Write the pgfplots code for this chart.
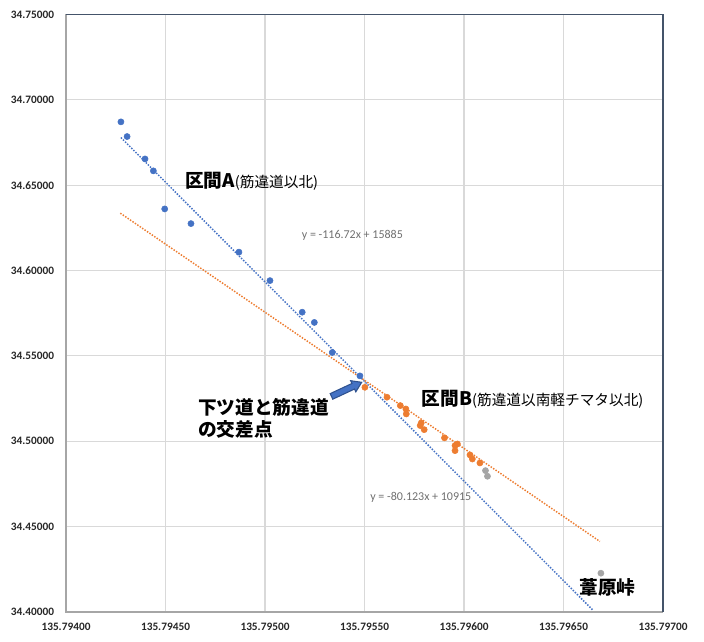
\documentclass[border=0pt]{standalone}
\usepackage{pgfplots}
\pgfplotsset{compat=1.18}
\usepackage{fontspec}
\setmainfont{Carlito}
\newfontfamily\jp{Noto Sans CJK JP}
\definecolor{cblue}{HTML}{4472C4}
\definecolor{corange}{HTML}{ED7D31}
\definecolor{cgray}{HTML}{A5A5A5}
\definecolor{cgrid}{HTML}{D9D9D9}
\definecolor{cframe}{HTML}{44546A}
\definecolor{caxis}{HTML}{A6A6A6}
\definecolor{ceq}{HTML}{707070}
\definecolor{carrowd}{HTML}{2F528F}
% x in units of 1e-5 deg from 135.79400, y in units of 1e-4 deg from 34.40000
\pgfplotstableread{
x y
27.6 2871
30.7 2785
39.7 2654
43.9 2584
49.6 2361
62.8 2275
86.9 2108
102.5 1941
118.7 1756
124.8 1696
133.8 1520
147.7 1383
}\blueA
\pgfplotstableread{
x y
150.2 1316
161.3 1258
168.0 1209
170.8 1189
171.0 1160
178.5 1107
178.0 1092
180.0 1068
190.2 1020
195.5 975
196.7 984
195.5 945
203.0 920
204.2 896
208.0 873
}\orangeB
\pgfplotstableread{
x y
210.8 828
211.8 795
268.8 227
}\grayC
\begin{document}
\begin{tikzpicture}
\begin{axis}[
  scale only axis, width=447.75pt, height=448.1pt,
  xmin=0, xmax=300, ymin=0, ymax=3500,
  xtick={0,50,100,150,200,250,300},
  xticklabels={135.79400,135.79450,135.79500,135.79550,135.79600,135.79650,135.79700},
  ytick={0,500,1000,1500,2000,2500,3000,3500},
  yticklabels={34.40000,34.45000,34.50000,34.55000,34.60000,34.65000,34.70000,34.75000},
  major tick length=0pt,
  grid=major,
  major grid style={draw=cgrid, line width=0.9pt},
  axis line style={draw=none},
  tick label style={font=\fontsize{8.5}{10}\selectfont\bfseries, inner sep=0pt, text=black!85},
  yticklabel style={anchor=east, xshift=-8.8pt},
  xticklabel style={anchor=north, yshift=-8pt},
  clip=false,
]
\draw[caxis, line width=1.6pt] (rel axis cs:0,1) -- (rel axis cs:0,0) -- (rel axis cs:1,0);
\draw[cframe, line width=1.1pt] (rel axis cs:0,1) -- (rel axis cs:1,1) -- (rel axis cs:1,0);
\addplot[color=cblue, only marks, mark=*, mark size=2.3pt, mark options={solid, draw=cblue, fill=cblue}] table[x=x,y=y] {\blueA};
\addplot[color=corange, only marks, mark=*, mark size=2.3pt, mark options={solid, draw=corange, fill=corange}] table[x=x,y=y] {\orangeB};
\addplot[color=cgray, only marks, mark=*, mark size=2.3pt, mark options={solid, draw=cgray, fill=cgray}] table[x=x,y=y] {\grayC};
\addplot[cblue, line width=1.1pt, dash pattern=on 1.1pt off 1.1pt] coordinates {(27.6,2779) (265.0,8)};
\addplot[corange, line width=1.1pt, dash pattern=on 1.1pt off 1.1pt] coordinates {(27.3,2336) (268.3,413)};
\node[anchor=west, inner sep=0pt] at (axis cs:59.8,2525) {\jp{\fontsize{14}{16}\selectfont\bfseries 区間A}{\fontsize{11}{13}\selectfont (筋違道以北)}};
\node[anchor=west, inner sep=0pt] at (axis cs:178.7,1247) {\jp{\fontsize{14}{16}\selectfont\bfseries 区間B}{\fontsize{11}{13}\selectfont (筋違道以南軽チマタ以北)}};
\node[anchor=west, inner sep=0pt, text=ceq] at (axis cs:118.4,2209) {\fontsize{9}{10}\selectfont y = -116.72x + 15885};
\node[anchor=west, inner sep=0pt, text=ceq] at (axis cs:152.8,671) {\fontsize{9}{10}\selectfont y = -80.123x + 10915};
\node[anchor=west, inner sep=0pt] at (axis cs:66.3,1196) {\jp\fontsize{14}{16}\selectfont\bfseries 下ツ道と筋違道};
\node[anchor=west, inner sep=0pt] at (axis cs:66.3,1067) {\jp\fontsize{14}{16}\selectfont\bfseries の交差点};
\node[anchor=west, inner sep=0pt] at (axis cs:257.9,146) {\jp\fontsize{14}{16}\selectfont\bfseries 葦原峠};
\begin{scope}[shift={(axis cs:141.0,1304)}, rotate=25]
\draw[carrowd, fill=cblue, line width=0.8pt, line join=miter]
  (-12.5pt,-2.3pt) -- (5.5pt,-2.3pt) -- (5.5pt,-4.6pt) -- (12.5pt,0pt) -- (5.5pt,4.6pt) -- (5.5pt,2.3pt) -- (-12.5pt,2.3pt) -- cycle;
\end{scope}
\coordinate (O) at (rel axis cs:0,0);
\coordinate (T) at (rel axis cs:1,1);
\end{axis}
\pgfresetboundingbox
\path ([xshift=-49.5pt,yshift=-22.5pt]O) rectangle ([xshift=30.75pt,yshift=10.875pt]T);
\end{tikzpicture}
\end{document}
